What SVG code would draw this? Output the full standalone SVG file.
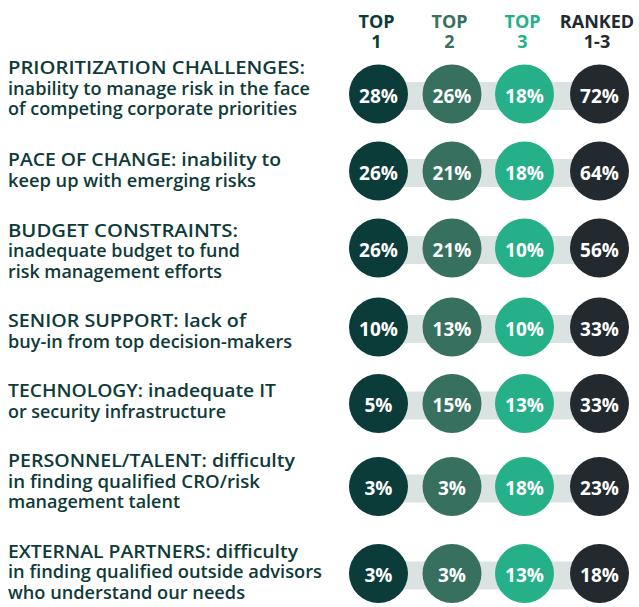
<svg xmlns="http://www.w3.org/2000/svg" width="639" height="607" viewBox="0 0 639 607">
<style>
.lbl{font-family:"Open Sans","Liberation Sans",sans-serif;font-weight:600;font-size:17.5px;fill:#0e3b39}
.hd{font-family:"Open Sans","Liberation Sans",sans-serif;font-weight:700;font-size:18px;text-anchor:middle}
.pct{font-family:"Open Sans","Liberation Sans",sans-serif;font-weight:700;font-size:19px;fill:#ffffff;text-anchor:middle}
.bar{fill:#dbe3e2}
.c1{fill:#0c3c3a}.c2{fill:#37705f}.c3{fill:#25b089}.c4{fill:#222a2f}
</style>
<rect width="639" height="607" fill="#ffffff"/>
<g id="header">
<text class="hd" fill="#0c3c3a"><tspan x="376.5" y="27.7">TOP</tspan><tspan x="376.5" y="48.3">1</tspan></text>
<text class="hd" fill="#37705f"><tspan x="449.5" y="27.7">TOP</tspan><tspan x="449.5" y="48.3">2</tspan></text>
<text class="hd" fill="#25b089"><tspan x="522.5" y="27.7">TOP</tspan><tspan x="522.5" y="48.3">3</tspan></text>
<text class="hd" fill="#222a2f"><tspan x="597" y="27.7">RANKED</tspan><tspan x="597" y="48.3">1-3</tspan></text>
</g>
<g id="row1">
<text class="lbl"><tspan x="8" y="74" textLength="297" lengthAdjust="spacingAndGlyphs">PRIORITIZATION CHALLENGES:</tspan><tspan x="8" y="94.7" textLength="302" lengthAdjust="spacingAndGlyphs">inability to manage risk in the face</tspan><tspan x="8" y="115.4" textLength="289" lengthAdjust="spacingAndGlyphs">of competing corporate priorities</tspan></text>
<rect class="bar" x="378.5" y="82" width="221" height="28"/>
<circle class="c1" cx="378.5" cy="94" r="29.5"/><circle class="c2" cx="452" cy="94" r="29.5"/><circle class="c3" cx="524.5" cy="94" r="29.5"/><circle class="c4" cx="599.5" cy="94" r="29.5"/>
<text class="pct" y="102.5"><tspan x="378.5">28%</tspan><tspan x="452">26%</tspan><tspan x="524.5">18%</tspan><tspan x="599.5">72%</tspan></text>
</g>
<g id="row2">
<text class="lbl"><tspan x="8" y="166" textLength="273" lengthAdjust="spacingAndGlyphs">PACE OF CHANGE: inability to</tspan><tspan x="8" y="186.7" textLength="248" lengthAdjust="spacingAndGlyphs">keep up with emerging risks</tspan></text>
<rect class="bar" x="378.5" y="159" width="221" height="28"/>
<circle class="c1" cx="378.5" cy="171" r="29.5"/><circle class="c2" cx="452" cy="171" r="29.5"/><circle class="c3" cx="524.5" cy="171" r="29.5"/><circle class="c4" cx="599.5" cy="171" r="29.5"/>
<text class="pct" y="179.5"><tspan x="378.5">26%</tspan><tspan x="452">21%</tspan><tspan x="524.5">18%</tspan><tspan x="599.5">64%</tspan></text>
</g>
<g id="row3">
<text class="lbl"><tspan x="8" y="236.5" textLength="230" lengthAdjust="spacingAndGlyphs">BUDGET CONSTRAINTS:</tspan><tspan x="8" y="257.2" textLength="232" lengthAdjust="spacingAndGlyphs">inadequate budget to fund</tspan><tspan x="8" y="277.9" textLength="214" lengthAdjust="spacingAndGlyphs">risk management efforts</tspan></text>
<rect class="bar" x="378.5" y="236" width="221" height="28"/>
<circle class="c1" cx="378.5" cy="248" r="29.5"/><circle class="c2" cx="452" cy="248" r="29.5"/><circle class="c3" cx="524.5" cy="248" r="29.5"/><circle class="c4" cx="599.5" cy="248" r="29.5"/>
<text class="pct" y="256.5"><tspan x="378.5">26%</tspan><tspan x="452">21%</tspan><tspan x="524.5">10%</tspan><tspan x="599.5">56%</tspan></text>
</g>
<g id="row4">
<text class="lbl"><tspan x="8" y="327" textLength="238" lengthAdjust="spacingAndGlyphs">SENIOR SUPPORT: lack of</tspan><tspan x="8" y="347.7" textLength="284" lengthAdjust="spacingAndGlyphs">buy-in from top decision-makers</tspan></text>
<rect class="bar" x="378.5" y="315" width="221" height="28"/>
<circle class="c1" cx="378.5" cy="327" r="29.5"/><circle class="c2" cx="452" cy="327" r="29.5"/><circle class="c3" cx="524.5" cy="327" r="29.5"/><circle class="c4" cx="599.5" cy="327" r="29.5"/>
<text class="pct" y="335.5"><tspan x="378.5">10%</tspan><tspan x="452">13%</tspan><tspan x="524.5">10%</tspan><tspan x="599.5">33%</tspan></text>
</g>
<g id="row5">
<text class="lbl"><tspan x="8" y="397" textLength="268" lengthAdjust="spacingAndGlyphs">TECHNOLOGY: inadequate IT</tspan><tspan x="8" y="417.7" textLength="218" lengthAdjust="spacingAndGlyphs">or security infrastructure</tspan></text>
<rect class="bar" x="378.5" y="391.5" width="221" height="28"/>
<circle class="c1" cx="378.5" cy="403.5" r="29.5"/><circle class="c2" cx="452" cy="403.5" r="29.5"/><circle class="c3" cx="524.5" cy="403.5" r="29.5"/><circle class="c4" cx="599.5" cy="403.5" r="29.5"/>
<text class="pct" y="412"><tspan x="378.5">5%</tspan><tspan x="452">15%</tspan><tspan x="524.5">13%</tspan><tspan x="599.5">33%</tspan></text>
</g>
<g id="row6">
<text class="lbl"><tspan x="8" y="467" textLength="287" lengthAdjust="spacingAndGlyphs">PERSONNEL/TALENT: difficulty</tspan><tspan x="8" y="487.7" textLength="252" lengthAdjust="spacingAndGlyphs">in finding qualified CRO/risk</tspan><tspan x="8" y="508.4" textLength="172" lengthAdjust="spacingAndGlyphs">management talent</tspan></text>
<rect class="bar" x="378.5" y="474.5" width="221" height="28"/>
<circle class="c1" cx="378.5" cy="486.5" r="29.5"/><circle class="c2" cx="452" cy="486.5" r="29.5"/><circle class="c3" cx="524.5" cy="486.5" r="29.5"/><circle class="c4" cx="599.5" cy="486.5" r="29.5"/>
<text class="pct" y="495"><tspan x="378.5">3%</tspan><tspan x="452">3%</tspan><tspan x="524.5">18%</tspan><tspan x="599.5">23%</tspan></text>
</g>
<g id="row7">
<text class="lbl"><tspan x="8" y="557.7" textLength="290" lengthAdjust="spacingAndGlyphs">EXTERNAL PARTNERS: difficulty</tspan><tspan x="8" y="578.4" textLength="314" lengthAdjust="spacingAndGlyphs">in finding qualified outside advisors</tspan><tspan x="8" y="599.1" textLength="237" lengthAdjust="spacingAndGlyphs">who understand our needs</tspan></text>
<rect class="bar" x="378.5" y="561.5" width="221" height="28"/>
<circle class="c1" cx="378.5" cy="573.5" r="29.5"/><circle class="c2" cx="452" cy="573.5" r="29.5"/><circle class="c3" cx="524.5" cy="573.5" r="29.5"/><circle class="c4" cx="599.5" cy="573.5" r="29.5"/>
<text class="pct" y="582"><tspan x="378.5">3%</tspan><tspan x="452">3%</tspan><tspan x="524.5">13%</tspan><tspan x="599.5">18%</tspan></text>
</g>
</svg>
